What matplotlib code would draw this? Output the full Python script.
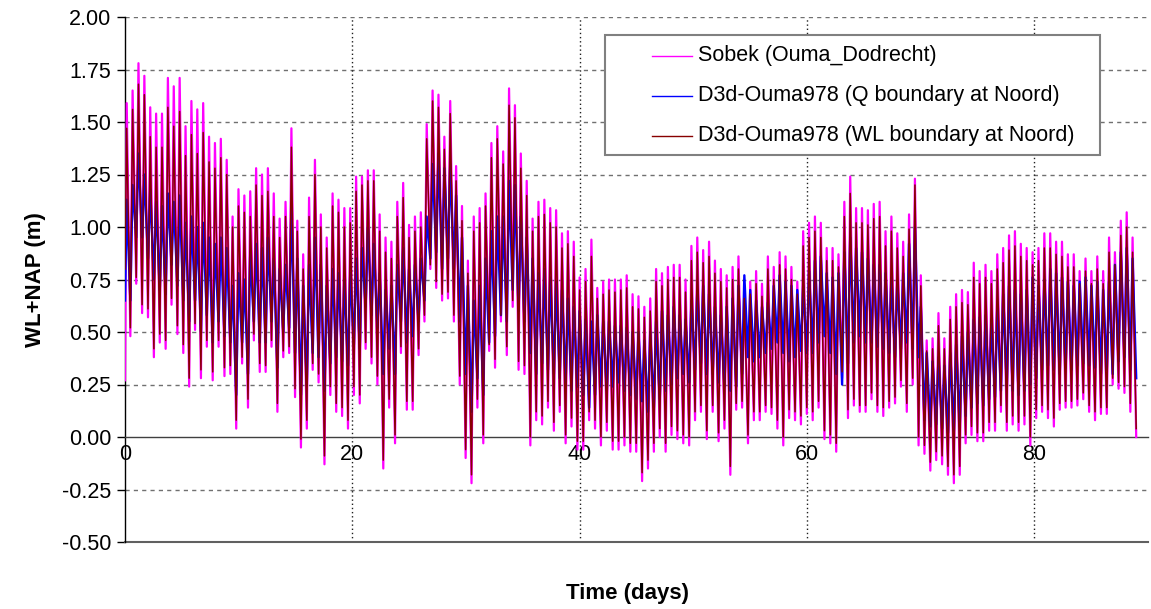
import numpy as np
import matplotlib.pyplot as plt
from matplotlib.lines import Line2D
from matplotlib.patches import Rectangle

plt.rcParams['font.family'] = ['Liberation Sans', 'DejaVu Sans']

# time base: first high water (days) and semi-diurnal tide period (days)
first_high = 0.15
tide_period = 0.5175
low_offset = 0.62  # fraction of a period from high water to the next low water

# Sobek (Ouma_Dodrecht): value at t=0, then high / low water of each tide
sobek_start = 0.27
sobek_high = [
    1.59, 1.65, 1.78, 1.72, 1.57, 1.54, 1.54, 1.71, 1.67, 1.71, 1.48, 1.60, 1.56, 1.59, 1.43, 1.40, 1.42,
    1.32, 1.05, 1.18, 1.15, 1.17, 1.28, 1.25, 1.28, 1.16, 1.04, 1.12, 1.47, 1.03, 0.87, 1.14, 1.32, 1.06,
    0.95, 1.16, 1.13, 1.09, 1.09, 1.24, 1.24, 1.27, 1.27, 1.06, 0.95, 0.93, 1.12, 1.21, 1.01, 1.05, 1.07,
    1.49, 1.65, 1.63, 1.43, 1.60, 1.29, 1.10, 0.84, 1.05, 1.09, 1.16, 1.40, 1.48, 1.36, 1.66, 1.58, 1.35,
    1.22, 1.04, 1.12, 1.13, 1.09, 1.08, 0.97, 0.98, 0.93, 0.76, 0.80, 0.94, 0.71, 0.74, 0.75, 0.75, 0.75,
    0.77, 0.68, 0.67, 0.62, 0.66, 0.80, 0.78, 0.81, 0.82, 0.82, 0.75, 0.91, 0.95, 0.89, 0.93, 0.84, 0.80,
    0.77, 0.81, 0.86, 0.72, 0.74, 0.79, 0.73, 0.86, 0.81, 0.88, 0.86, 0.81, 0.74, 0.98, 1.02, 1.05, 1.02,
    0.90, 0.90, 0.87, 1.12, 1.24, 1.09, 1.09, 1.08, 1.11, 1.12, 0.98, 1.05, 0.97, 0.93, 1.06, 1.23, 0.77,
    0.46, 0.47, 0.59, 0.47, 0.62, 0.68, 0.70, 0.69, 0.83, 0.79, 0.82, 0.79, 0.87, 0.90, 0.96, 0.98, 0.92,
    0.90, 0.88, 0.90, 0.97, 0.97, 0.93, 0.93, 0.87, 0.87, 0.79, 0.85, 0.79, 0.86, 0.79, 0.95, 0.88, 1.03, 1.07, 0.95,
]
sobek_low = [
    0.48, 0.73, 0.59, 0.57, 0.38, 0.45, 0.42, 0.63, 0.49, 0.40, 0.24, 0.51, 0.28, 0.43, 0.27, 0.43, 0.29,
    0.30, 0.04, 0.35, 0.14, 0.46, 0.31, 0.31, 0.43, 0.12, 0.38, 0.40, 0.19, -0.05, 0.04, 0.32, 0.26, -0.13,
    0.20, 0.12, 0.10, 0.04, 0.20, 0.16, 0.42, 0.35, 0.25, -0.15, 0.14, -0.03, 0.40, 0.13, 0.13, 0.39, 0.55,
    0.80, 0.71, 0.65, 0.66, 0.55, 0.25, -0.10, -0.22, 0.14, -0.03, 0.41, 0.33, 0.55, 0.39, 0.62, 0.32, 0.30,
    -0.04, 0.08, 0.06, 0.14, 0.03, 0.12, -0.03, 0.05, -0.06, -0.06, 0.08, 0.04, -0.04, 0.03, -0.06, -0.06, -0.04,
    -0.07, -0.07, -0.21, -0.15, -0.07, 0.00, -0.07, 0.01, -0.01, -0.03, -0.04, 0.08, 0.12, -0.01, 0.12, -0.02, 0.04,
    -0.18, 0.13, 0.14, -0.03, 0.08, 0.08, 0.12, 0.11, 0.04, -0.04, 0.09, 0.08, 0.06, 0.11, 0.08, 0.14, -0.01,
    -0.03, -0.07, 0.28, 0.09, 0.15, 0.12, 0.12, 0.18, 0.12, 0.10, 0.14, 0.16, 0.24, 0.12, 0.25, -0.04, -0.08,
    -0.16, -0.11, -0.13, -0.18, -0.22, -0.18, -0.03, 0.01, -0.02, -0.02, 0.03, 0.03, 0.12, 0.03, 0.06, 0.03, 0.06,
    -0.04, 0.09, 0.12, 0.09, 0.05, 0.13, 0.14, 0.14, 0.15, 0.18, 0.12, 0.08, 0.11, 0.11, 0.25, 0.23, 0.21, 0.12, 0.00,
]

# D3d-Ouma978 with Q boundary at Noord
q_start = 0.65
q_high = [
    1.13, 1.20, 1.35, 1.25, 1.18, 1.12, 1.10, 1.16, 1.12, 1.15, 1.02, 1.05, 1.00, 1.02, 0.95, 0.92, 0.95,
    0.90, 0.72, 0.78, 0.75, 0.88, 0.92, 0.90, 0.95, 0.85, 0.80, 0.82, 1.10, 0.85, 0.72, 0.82, 0.95, 0.82,
    0.72, 0.80, 0.78, 0.75, 0.78, 0.85, 0.90, 1.00, 0.92, 0.78, 0.70, 0.72, 0.82, 0.90, 0.80, 0.82, 0.85,
    1.05, 1.30, 1.35, 1.28, 1.30, 1.15, 0.95, 0.72, 0.65, 0.72, 0.85, 0.98, 1.05, 1.05, 1.22, 1.20, 1.05,
    0.95, 0.85, 0.78, 0.80, 0.76, 0.74, 0.70, 0.66, 0.62, 0.60, 0.56, 0.55, 0.58, 0.55, 0.55, 0.53, 0.53,
    0.52, 0.50, 0.50, 0.46, 0.50, 0.55, 0.60, 0.58, 0.62, 0.58, 0.56, 0.65, 0.70, 0.72, 0.68, 0.62, 0.58,
    0.62, 0.66, 0.72, 0.77, 0.70, 0.65, 0.62, 0.64, 0.72, 0.77, 0.74, 0.72, 0.70, 0.72, 0.79, 0.84, 0.86,
    0.78, 0.76, 0.78, 0.88, 0.95, 0.90, 0.88, 0.85, 0.82, 0.82, 0.78, 0.76, 0.74, 0.78, 0.92, 1.00, 0.62,
    0.40, 0.36, 0.38, 0.34, 0.40, 0.44, 0.48, 0.50, 0.56, 0.57, 0.58, 0.56, 0.62, 0.68, 0.72, 0.70, 0.68,
    0.70, 0.76, 0.72, 0.75, 0.80, 0.78, 0.76, 0.74, 0.72, 0.74, 0.76, 0.72, 0.74, 0.70, 0.74, 0.82, 0.88, 0.90, 0.85,
]
q_low = [
    0.65, 0.95, 0.95, 0.85, 0.75, 0.70, 0.68, 0.82, 0.72, 0.65, 0.55, 0.65, 0.50, 0.58, 0.45, 0.55, 0.48,
    0.45, 0.20, 0.45, 0.30, 0.55, 0.45, 0.45, 0.55, 0.33, 0.50, 0.52, 0.40, 0.20, 0.25, 0.40, 0.38, 0.22,
    0.35, 0.38, 0.36, 0.34, 0.44, 0.42, 0.62, 0.58, 0.52, 0.30, 0.42, 0.30, 0.55, 0.45, 0.48, 0.55, 0.65,
    0.85, 0.88, 0.80, 0.85, 0.80, 0.55, 0.30, 0.12, 0.28, 0.20, 0.45, 0.48, 0.58, 0.55, 0.70, 0.60, 0.55,
    0.40, 0.30, 0.35, 0.32, 0.30, 0.28, 0.26, 0.22, 0.24, 0.20, 0.14, 0.20, 0.24, 0.22, 0.24, 0.26, 0.22,
    0.20, 0.18, 0.17, 0.12, 0.14, 0.18, 0.22, 0.25, 0.28, 0.30, 0.26, 0.32, 0.35, 0.30, 0.30, 0.26, 0.24,
    0.22, 0.24, 0.30, 0.38, 0.36, 0.38, 0.40, 0.42, 0.45, 0.40, 0.36, 0.38, 0.41, 0.40, 0.40, 0.45, 0.48,
    0.40, 0.30, 0.25, 0.35, 0.45, 0.48, 0.45, 0.45, 0.43, 0.42, 0.40, 0.38, 0.42, 0.45, 0.42, 0.38, 0.08,
    0.05, 0.06, 0.04, 0.02, 0.03, 0.05, 0.10, 0.14, 0.16, 0.15, 0.18, 0.19, 0.22, 0.24, 0.22, 0.20, 0.22,
    0.25, 0.28, 0.32, 0.34, 0.32, 0.30, 0.33, 0.32, 0.34, 0.35, 0.34, 0.33, 0.30, 0.32, 0.30, 0.36, 0.38, 0.32, 0.28,
]

# D3d-Ouma978 with WL boundary at Noord
wl_start = 0.80
wl_high = [
    1.47, 1.56, 1.68, 1.63, 1.43, 1.38, 1.38, 1.57, 1.48, 1.55, 1.34, 1.44, 1.35, 1.45, 1.31, 1.28, 1.33,
    1.25, 1.00, 1.10, 1.07, 1.05, 1.20, 1.15, 1.17, 1.05, 0.95, 1.05, 1.38, 0.98, 0.80, 1.05, 1.25, 1.00,
    0.90, 1.10, 1.07, 1.00, 1.02, 1.17, 1.20, 1.22, 1.22, 0.98, 0.88, 0.85, 1.05, 1.14, 0.95, 0.98, 1.00,
    1.42, 1.60, 1.57, 1.37, 1.54, 1.22, 1.03, 0.78, 0.98, 1.02, 1.10, 1.33, 1.42, 1.30, 1.58, 1.52, 1.28,
    1.15, 0.98, 1.05, 1.06, 1.02, 1.00, 0.90, 0.92, 0.86, 0.70, 0.74, 0.86, 0.66, 0.68, 0.70, 0.69, 0.70,
    0.71, 0.62, 0.61, 0.57, 0.60, 0.74, 0.72, 0.75, 0.76, 0.76, 0.69, 0.84, 0.88, 0.83, 0.86, 0.78, 0.74,
    0.71, 0.75, 0.80, 0.66, 0.68, 0.73, 0.67, 0.80, 0.75, 0.82, 0.80, 0.75, 0.68, 0.91, 0.95, 0.98, 0.95,
    0.84, 0.84, 0.81, 1.05, 1.16, 1.02, 1.02, 1.01, 1.04, 1.05, 0.91, 0.98, 0.90, 0.86, 0.99, 1.20, 0.72,
    0.41, 0.42, 0.53, 0.42, 0.56, 0.62, 0.64, 0.63, 0.76, 0.73, 0.76, 0.73, 0.80, 0.83, 0.89, 0.91, 0.86,
    0.84, 0.82, 0.84, 0.90, 0.90, 0.87, 0.86, 0.81, 0.81, 0.73, 0.79, 0.73, 0.80, 0.73, 0.88, 0.82, 0.96, 1.00, 0.88,
]
wl_low = [
    0.52, 0.76, 0.63, 0.61, 0.42, 0.49, 0.46, 0.66, 0.53, 0.44, 0.28, 0.54, 0.32, 0.46, 0.31, 0.46, 0.33,
    0.34, 0.08, 0.38, 0.18, 0.49, 0.35, 0.34, 0.46, 0.16, 0.41, 0.43, 0.23, -0.01, 0.08, 0.35, 0.30, -0.09,
    0.24, 0.16, 0.14, 0.08, 0.24, 0.20, 0.45, 0.38, 0.29, -0.11, 0.18, 0.01, 0.43, 0.17, 0.17, 0.42, 0.58,
    0.82, 0.74, 0.68, 0.69, 0.58, 0.29, -0.06, -0.18, 0.18, 0.01, 0.44, 0.37, 0.58, 0.43, 0.65, 0.36, 0.34,
    0.00, 0.12, 0.10, 0.17, 0.07, 0.15, 0.01, 0.09, -0.02, -0.02, 0.12, 0.08, 0.00, 0.07, -0.02, -0.02, 0.00,
    -0.03, -0.03, -0.17, -0.11, -0.03, 0.04, -0.03, 0.05, 0.03, 0.01, 0.00, 0.12, 0.15, 0.03, 0.15, 0.02, 0.08,
    -0.14, 0.16, 0.17, 0.01, 0.12, 0.12, 0.15, 0.14, 0.08, 0.00, 0.13, 0.12, 0.10, 0.14, 0.12, 0.17, 0.03,
    0.01, -0.03, 0.31, 0.13, 0.18, 0.15, 0.15, 0.21, 0.15, 0.14, 0.17, 0.19, 0.27, 0.16, 0.28, 0.00, -0.04,
    -0.12, -0.07, -0.09, -0.14, -0.18, -0.14, 0.01, 0.05, 0.02, 0.02, 0.07, 0.07, 0.15, 0.07, 0.10, 0.07, 0.10,
    0.00, 0.13, 0.15, 0.13, 0.09, 0.16, 0.17, 0.17, 0.18, 0.21, 0.15, 0.12, 0.14, 0.14, 0.28, 0.26, 0.24, 0.16, 0.04,
]

labels = ["Sobek (Ouma_Dodrecht)",
          "D3d-Ouma978 (Q boundary at Noord)",
          "D3d-Ouma978 (WL boundary at Noord)"]
colors = ["#ff00ff", "#0000ff", "#880000"]
widths = [1.6, 1.7, 1.1]


def tide_series(start, highs, lows):
    highs = np.asarray(highs, dtype=float)
    lows = np.asarray(lows, dtype=float)
    t_high = first_high + tide_period * np.arange(len(highs))
    t_low = t_high + low_offset * tide_period
    t = np.empty(2 * len(highs))
    v = np.empty(2 * len(highs))
    t[0::2], t[1::2] = t_high, t_low
    v[0::2], v[1::2] = highs, lows
    return np.r_[0.0, t], np.r_[start, v]


series = [tide_series(sobek_start, sobek_high, sobek_low),
          tide_series(q_start, q_high, q_low),
          tide_series(wl_start, wl_high, wl_low)]

W, H = 1151, 609
fig = plt.figure(figsize=(W / 100, H / 100), dpi=100)
ax = fig.add_axes([125 / W, 67 / H, 1023 / W, 525 / H])

for (t, v), c, lw in zip(series, colors, widths):
    ax.plot(t, v, color=c, lw=lw, zorder=3)

ax.set_xlim(0, 90)
ax.set_ylim(-0.5, 2.0)

# grid: dashed horizontals, dotted verticals
yt = np.arange(-0.5, 2.001, 0.25)
for y in yt:
    if abs(y) < 1e-9 or abs(y + 0.5) < 1e-9:
        continue
    ax.axhline(y, color="#707070", lw=1.0, ls=(0, (3, 3)), zorder=1)
for x in [20, 40, 60, 80]:
    ax.axvline(x, color="#202020", lw=1.0, ls=(0, (1, 2)), zorder=1)
ax.axhline(-0.5, color="#606060", lw=1.5, zorder=2, clip_on=False)

for s in ["top", "right"]:
    ax.spines[s].set_visible(False)
ax.spines["left"].set_color("black")
ax.spines["left"].set_linewidth(1.0)
ax.spines["bottom"].set_position(("data", 0))
ax.spines["bottom"].set_color("#404040")
ax.spines["bottom"].set_linewidth(1.0)

ax.set_yticks(yt)
ax.set_yticklabels([f"{y:.2f}" for y in yt])
ax.set_xticks([0, 20, 40, 60, 80])
ax.tick_params(axis="y", direction="out", length=6, width=1, labelsize=15.5, pad=4)
ax.tick_params(axis="x", length=0, labelsize=15.5, pad=5)

fig.text(36 / W, 1 - 280 / H, "WL+NAP (m)", rotation=90, ha="center", va="center",
         fontsize=16, fontweight="bold")
fig.text(628 / W, 1 - 593 / H, "Time (days)", ha="center", va="center",
         fontsize=16, fontweight="bold")

# legend box
fig.patches.append(Rectangle((605 / W, 1 - 155 / H), 495 / W, 120 / H,
                             transform=fig.transFigure, facecolor="white",
                             edgecolor="#808080", lw=1.5, zorder=5))
for i, (lab, c) in enumerate(zip(labels, colors)):
    yy = 1 - (56 + 40 * i) / H
    fig.lines.append(Line2D([652 / W, 692 / W], [yy, yy], transform=fig.transFigure,
                            color=c, lw=1.0, zorder=6))
    fig.text(698 / W, yy, lab, ha="left", va="center", fontsize=15.5, zorder=6)

fig.savefig("out.png", dpi=100)
